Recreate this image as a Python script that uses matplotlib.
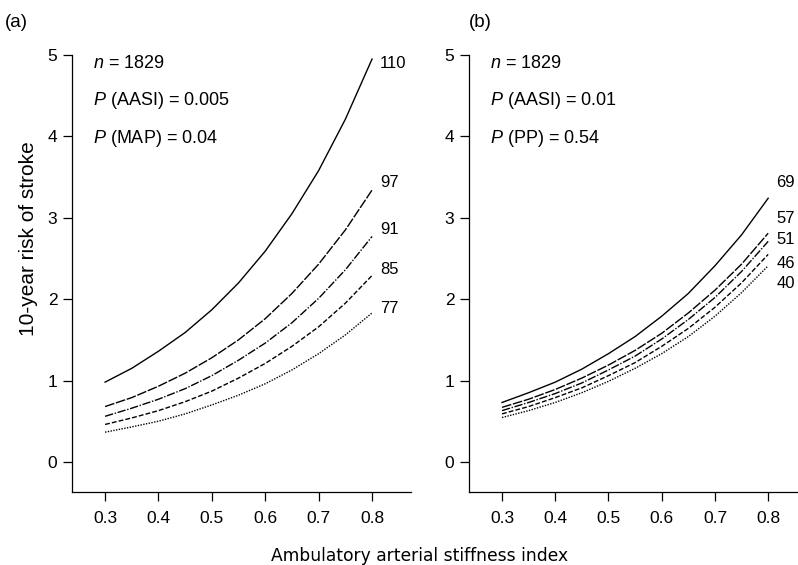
import numpy as np
import matplotlib
matplotlib.use('Agg')
import matplotlib.pyplot as plt

plt.rcParams['font.family'] = ['Liberation Sans', 'DejaVu Sans']
plt.rcParams['mathtext.fontset'] = 'custom'
plt.rcParams['mathtext.rm'] = 'Liberation Sans'
plt.rcParams['mathtext.it'] = 'Liberation Sans:italic'
plt.rcParams['lines.scale_dashes'] = False

# Ambulatory arterial stiffness index values (common x for every curve)
aasi = [0.30, 0.35, 0.40, 0.45, 0.50, 0.55, 0.60, 0.65, 0.70, 0.75, 0.80]

# (a) 10-year risk of stroke by mean arterial pressure
map_levels = ['110', '97', '91', '85', '77']
risk_map_110 = [0.98, 1.15, 1.36, 1.59, 1.87, 2.20, 2.59, 3.05, 3.58, 4.21, 4.95]
risk_map_97 = [0.68, 0.79, 0.93, 1.09, 1.28, 1.50, 1.76, 2.07, 2.43, 2.85, 3.34]
risk_map_91 = [0.56, 0.66, 0.77, 0.90, 1.06, 1.25, 1.46, 1.71, 2.01, 2.36, 2.77]
risk_map_85 = [0.46, 0.54, 0.63, 0.74, 0.87, 1.03, 1.21, 1.42, 1.66, 1.95, 2.29]
risk_map_77 = [0.365, 0.43, 0.50, 0.59, 0.70, 0.82, 0.96, 1.13, 1.33, 1.56, 1.83]

# (b) 10-year risk of stroke by pulse pressure
pp_levels = ['69', '57', '51', '46', '40']
risk_pp_69 = [0.73, 0.85, 0.98, 1.14, 1.33, 1.54, 1.79, 2.07, 2.41, 2.79, 3.24]
risk_pp_57 = [0.67, 0.77, 0.89, 1.03, 1.19, 1.37, 1.58, 1.83, 2.11, 2.43, 2.81]
risk_pp_51 = [0.63, 0.73, 0.84, 0.97, 1.13, 1.30, 1.51, 1.75, 2.02, 2.34, 2.71]
risk_pp_46 = [0.59, 0.68, 0.79, 0.91, 1.06, 1.22, 1.42, 1.64, 1.90, 2.20, 2.55]
risk_pp_40 = [0.545, 0.63, 0.73, 0.85, 0.99, 1.15, 1.33, 1.54, 1.79, 2.08, 2.41]

annot_a = ['$n$ = 1829', '$P$ (AASI) = 0.005', '$P$ (MAP) = 0.04']
annot_b = ['$n$ = 1829', '$P$ (AASI) = 0.01', '$P$ (PP) = 0.54']

styles = ['-', (0, (7, 1.2)), (0, (6, 1.2, 1, 1.2)), (0, (3.5, 1.5)), (0, (1, 1))]

# y position of the curve labels (kept apart so they do not overlap)
label_y_a = [4.90, 3.43, 2.86, 2.36, 1.89]
label_y_b = [3.43, 2.99, 2.73, 2.44, 2.19]

fig = plt.figure(figsize=(7.98, 5.65), dpi=100)
ax1 = fig.add_axes([72/798, 1-492/565, 339/798, 437/565])
ax2 = fig.add_axes([469/798, 1-492/565, 329/798, 437/565])


def panel(ax, curves, levels, label_y, annot, xmax):
    for y, ls in zip(curves, styles):
        ax.plot(aasi, y, color='black', lw=1.0, linestyle=ls)
    for lab, yl in zip(levels, label_y):
        ax.text(0.815, yl, lab, fontsize=12, va='center', ha='left')
    for i, t in enumerate(annot):
        ax.text(0.277, 4.9 - i*0.46, t, fontsize=13, va='center', ha='left')
    ax.set_xlim(0.238, xmax)
    ax.set_ylim(-0.37, 5)
    ax.set_xticks([0.3, 0.4, 0.5, 0.6, 0.7, 0.8])
    ax.set_yticks([0, 1, 2, 3, 4, 5])
    ax.spines['top'].set_visible(False)
    ax.spines['right'].set_visible(False)
    for s in ['left', 'bottom']:
        ax.spines[s].set_linewidth(0.9)
    ax.tick_params(axis='both', direction='out', length=6.5, width=0.9, labelsize=12.5)
    ax.tick_params(axis='x', pad=7)
    ax.tick_params(axis='y', pad=4)
    ax.patch.set_visible(False)


panel(ax1, [risk_map_110, risk_map_97, risk_map_91, risk_map_85, risk_map_77],
      map_levels, label_y_a, annot_a, 0.873)
panel(ax2, [risk_pp_69, risk_pp_57, risk_pp_51, risk_pp_46, risk_pp_40],
      pp_levels, label_y_b, annot_b, 0.856)

fig.text(0.006, 0.96, '(a)', fontsize=13.5, va='center', ha='left')
fig.text(469/798, 0.96, '(b)', fontsize=13.5, va='center', ha='left')
fig.text(0.036, 1-239/565, '10-year risk of stroke', rotation=90,
         fontsize=15, va='center', ha='center')
fig.text(420/798, 1-556/565, 'Ambulatory arterial stiffness index',
         fontsize=12.3, va='center', ha='center', family='DejaVu Sans')

fig.savefig('out.png', dpi=100)
